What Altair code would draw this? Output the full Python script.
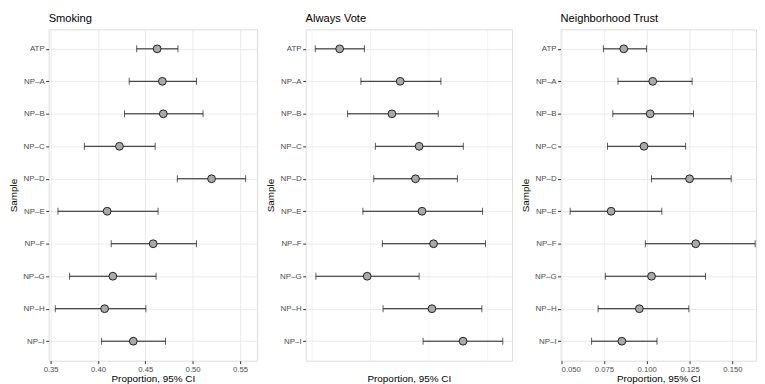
import json
import altair as alt
import pandas as pd

samples = ["ATP", "NP–A", "NP–B", "NP–C", "NP–D", "NP–E", "NP–F", "NP–G", "NP–H", "NP–I"]

smoking_est = [0.4625, 0.468, 0.469, 0.4227, 0.520, 0.4097, 0.4583, 0.4157, 0.407, 0.4373]
smoking_lo = [0.4409, 0.433, 0.428, 0.3856, 0.4838, 0.3577, 0.414, 0.370, 0.3549, 0.4038]
smoking_hi = [0.4845, 0.504, 0.511, 0.4604, 0.556, 0.4635, 0.504, 0.4614, 0.4506, 0.4713]

vote_est = [0.3488, 0.4007, 0.3936, 0.4169, 0.4138, 0.4194, 0.4293, 0.3724, 0.4279, 0.4546]
vote_lo = [0.3279, 0.367, 0.3556, 0.3794, 0.378, 0.3687, 0.3854, 0.3284, 0.386, 0.4203]
vote_hi = [0.370, 0.4356, 0.4333, 0.4548, 0.4497, 0.4713, 0.4738, 0.4169, 0.4707, 0.4886]

trust_est = [0.0866, 0.1035, 0.102, 0.0984, 0.125, 0.0792, 0.1286, 0.1028, 0.0957, 0.0855]
trust_lo = [0.0747, 0.0832, 0.0802, 0.0771, 0.1028, 0.0553, 0.0992, 0.0758, 0.0716, 0.0678]
trust_hi = [0.0999, 0.1265, 0.1273, 0.1227, 0.1493, 0.1088, 0.1633, 0.1343, 0.1246, 0.106]

smoking_major = [0.35, 0.40, 0.45, 0.50, 0.55]
smoking_minor = [0.375, 0.425, 0.475, 0.525]
vote_major = [0.35, 0.40, 0.45]
vote_minor = [0.325, 0.375, 0.425, 0.475]
trust_major = [0.050, 0.075, 0.100, 0.125, 0.150]
trust_minor = [0.0625, 0.0875, 0.1125, 0.1375]

FONT = "Liberation Sans"


def panel(title, est, lo, hi, domain, major, minor, fmt, width):
    df = pd.DataFrame({"Sample": samples, "est": est, "lo": lo, "hi": hi})
    test = f"indexof({json.dumps(major)}, datum.value) >= 0"
    xaxis = alt.Axis(
        title="Proportion, 95% CI",
        values=sorted(major + minor),
        format=fmt,
        labelExpr=f"{test} ? datum.label : ''",
        tickOpacity={"condition": {"test": test, "value": 1}, "value": 0},
        gridWidth={"condition": {"test": test, "value": 1}, "value": 0.6},
        gridColor="#EBEBEB",
        grid=True,
        domain=False,
        tickSize=3,
        tickColor="#333333",
        labelColor="#4D4D4D",
        labelFontSize=7.8,
        labelFont=FONT,
        labelPadding=1.5,
        titleFont=FONT,
        titleFontSize=10,
        titleFontWeight="normal",
        titleColor="black",
        titlePadding=1,
    )
    yaxis = alt.Axis(
        title="Sample",
        grid=True,
        gridColor="#EBEBEB",
        gridWidth=1,
        domain=False,
        tickSize=3,
        tickColor="#333333",
        labelColor="#4D4D4D",
        labelFontSize=8,
        labelFont=FONT,
        labelPadding=1.5,
        minExtent=27,
        maxExtent=27,
        titleFont=FONT,
        titleFontSize=10,
        titleFontWeight="normal",
        titleColor="black",
        titlePadding=3,
    )
    xs = alt.Scale(domain=domain, nice=False, zero=False)
    y = alt.Y("Sample:N", sort=samples, scale=alt.Scale(type="point", padding=0.6), axis=yaxis)
    base = alt.Chart(df)
    rule = base.mark_rule(color="#1a1a1a", strokeWidth=1).encode(
        x=alt.X("lo:Q", scale=xs, axis=xaxis), x2="hi:Q", y=y
    )
    cap_lo = base.mark_tick(color="#1a1a1a", thickness=1, size=7).encode(x=alt.X("lo:Q", scale=xs), y=y)
    cap_hi = base.mark_tick(color="#1a1a1a", thickness=1, size=7).encode(x=alt.X("hi:Q", scale=xs), y=y)
    pts = base.mark_circle(size=62, color="#A9A9A9", stroke="#111111", strokeWidth=0.9, opacity=1).encode(
        x=alt.X("est:Q", scale=xs), y=y
    )
    return alt.layer(rule, cap_lo, cap_hi, pts).properties(
        width=width,
        height=334,
        title=alt.TitleParams(
            text=title, anchor="start", frame="group", fontSize=11.2, font=FONT,
            fontWeight="normal", color="black", offset=5,
        ),
    )


p1 = panel("Smoking", smoking_est, smoking_lo, smoking_hi, [0.3479, 0.568], smoking_major, smoking_minor, ".2f", 210)
p2 = panel("Always Vote", vote_est, vote_lo, vote_hi, [0.3196, 0.4965], vote_major, vote_minor, ".2f", 208)
p3 = panel("Neighborhood Trust", trust_est, trust_lo, trust_hi, [0.0497, 0.1638], trust_major, trust_minor, ".3f", 197)

chart = alt.hconcat(p1, p2, p3, spacing=7).properties(
    padding={"left": 0, "top": 3, "right": 0, "bottom": 0}
).configure_view(stroke="#333333", strokeWidth=1).configure(background="white")

chart.save("out.html", embed_options={"renderer": "svg", "actions": False})
